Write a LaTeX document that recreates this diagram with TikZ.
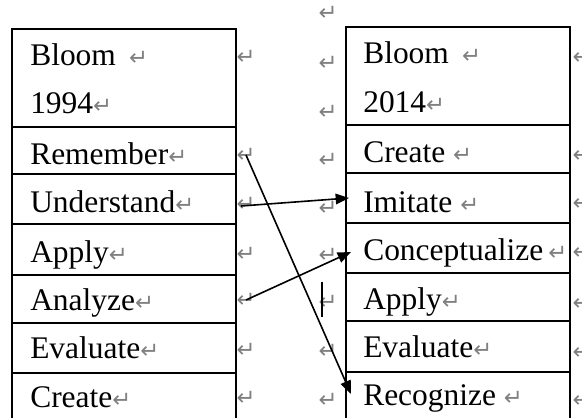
\documentclass[tikz,border=0pt]{standalone}
\usepackage{fontspec}
\setmainfont{Liberation Serif}
\newfontfamily\markfont{DejaVu Sans}
\usetikzlibrary{arrows.meta}
\newcommand{\retmark}{{\markfont\fontsize{17}{17}\selectfont\color{gray}↵}}

\begin{document}
\begin{tikzpicture}[x=0.75pt,y=-0.75pt]
\tikzstyle{every node}+=[inner sep=0pt]
\tikzstyle{cell}=[anchor=base west,font=\fontsize{23.6}{28}\selectfont]
\tikzstyle{rule}=[black,line width=1.4pt]
\tikzstyle{link}=[black,line width=1.2pt,-{Triangle[length=10pt,width=8pt]}]
\useasboundingbox (0,0) rectangle (582,418);
% left table, 1994
\draw [rule] (12,418) -- (12,29) -- (236,29) -- (236,418);
\draw [rule] (12,127) -- (236,127);
\draw [rule] (12,174) -- (236,174);
\draw [rule] (12,224) -- (236,224);
\draw [rule] (12,275) -- (236,275);
\draw [rule] (12,323) -- (236,323);
\draw [rule] (12,373) -- (236,373);
\node [cell] (l-bloom) at (30,65) {Bloom \,\retmark};
\node [cell] (l-year) at (30,113) {1994\retmark};
\node [cell] (l-rem) at (30,164) {Remember\retmark};
\node [cell] (l-und) at (30,212) {Understand\retmark};
\node [cell] (l-app) at (30,262) {Apply\retmark};
\node [cell] (l-ana) at (30,310) {Analyze\retmark};
\node [cell] (l-eva) at (30,358) {Evaluate\retmark};
\node [cell] (l-cre) at (30,407) {Create\retmark};
% right table, 2014
\draw [rule] (346,418) -- (346,27) -- (570,27) -- (570,418);
\draw [rule] (346,125) -- (570,125);
\draw [rule] (346,173) -- (570,173);
\draw [rule] (346,223) -- (570,223);
\draw [rule] (346,273) -- (570,273);
\draw [rule] (346,321) -- (570,321);
\draw [rule] (346,372) -- (570,372);
\node [cell] (r-bloom) at (363,63) {Bloom \,\retmark};
\node [cell] (r-year) at (363,112) {2014\retmark};
\node [cell] (r-cre) at (363,162) {Create \retmark};
\node [cell] (r-imi) at (363,212) {Imitate \retmark};
\node [cell] (r-con) at (363,260) {Conceptualize\,\retmark};
\node [cell] (r-app) at (363,309) {Apply\retmark};
\node [cell] (r-eva) at (363,357) {Evaluate\retmark};
\node [cell] (r-rec) at (363,405) {Recognize \retmark};
% paragraph marks outside the tables
\node (gl1) at (246,57) {\retmark};
\node (gl2) at (246,155) {\retmark};
\node (gl3) at (246,204) {\retmark};
\node (gl4) at (246,254) {\retmark};
\node (gl5) at (246,300) {\retmark};
\node (gl6) at (246,350) {\retmark};
\node (gl7) at (246,398) {\retmark};
\node (gr0) at (328,13) {\retmark};
\node (gr1) at (328,63) {\retmark};
\node (gr2) at (328,112) {\retmark};
\node (gr3) at (328,160) {\retmark};
\node (gr4) at (328,208) {\retmark};
\node (gr5) at (328,255) {\retmark};
\node (gr6) at (328,302) {\retmark};
\node (gr7) at (328,351) {\retmark};
\node (gr8) at (328,400) {\retmark};
\node (ge1) at (582,57) {\retmark};
\node (ge2) at (582,155) {\retmark};
\node (ge3) at (582,203) {\retmark};
\node (ge4) at (582,252) {\retmark};
\node (ge5) at (582,303) {\retmark};
\node (ge6) at (582,352) {\retmark};
\node (ge7) at (582,400) {\retmark};
% text cursor
\draw [black,line width=0.8pt] (322,282) -- (322,317);
% links between the two taxonomies
\coordinate (t-imi) at (349,198);
\coordinate (t-con) at (351,252);
\coordinate (t-rec) at (351,394);
\coordinate (s-und) at (241,206);
\draw [link] (gl2.center) -- (t-rec);
\draw [link] (s-und) -- (t-imi);
\draw [link] (gl5.center) -- (t-con);
\end{tikzpicture}
\end{document}
